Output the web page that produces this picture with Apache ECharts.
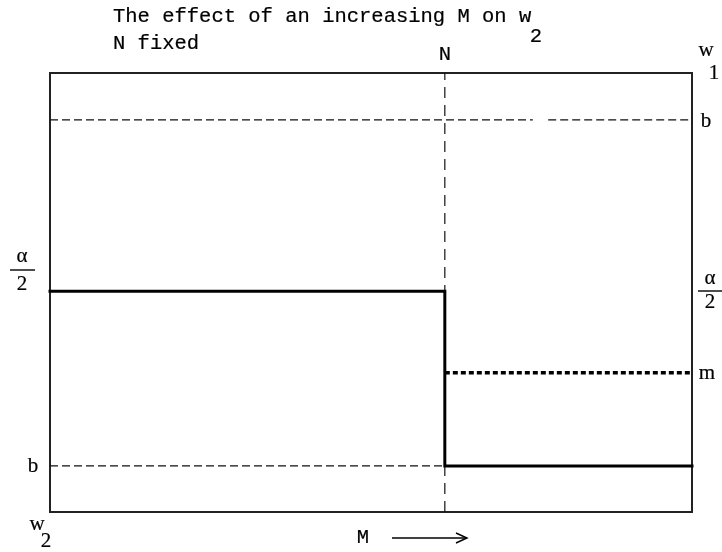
<!DOCTYPE html>
<html>
<head>
<meta charset="utf-8">
<script src="https://cdn.jsdelivr.net/npm/echarts@6/dist/echarts.min.js"></script>
<style>
html,body{margin:0;padding:0;background:#fff;}
#chart{width:722px;height:552px;}
</style>
</head>
<body>
<div id="chart"></div>
<script>
// ---- data (relative units: x in [0,1] along M, y in [0,1] along w) ----
const stepX = [0, 0.615, 0.615, 1];          // solid w2 path
const stepY = [0.503, 0.503, 0.105, 0.105];
const mLineX = [0.615, 1];                     // dotted m level
const mLineY = [0.317, 0.317];
const bLowX = [0, 0.615];                      // dashed lower b
const bLowY = [0.105, 0.105];
const bTopX1 = [0, 0.752];                     // dashed upper b (two pieces)
const bTopX2 = [0.776, 1];
const bTopY = [0.893, 0.893];
const nLineX = [0.615, 0.615];                 // vertical N line
const nLineY = [0, 1];

const titleLines = ['The effect of an increasing M on w', 'N fixed'];

function pts(xs, ys){ return xs.map((x,i)=>[x, ys[i]]); }

const chart = echarts.init(document.getElementById('chart'), null, {renderer:'canvas'});

const mono = '"Liberation Mono", "DejaVu Sans Mono", monospace';
const serif = '"Liberation Serif", "DejaVu Serif", serif';
const txt = (x, y, s, size, font, align) => ({
  type:'text', x:x, y:y, z:100,
  style:{text:s, fontSize:size, fontFamily:font, fill:'#000', stroke:'#000', lineWidth:0.2,
         align:align||'center', verticalAlign:'middle'}
});
const bar = (x1, x2, y) => ({type:'line', z:100, shape:{x1:x1,y1:y,x2:x2,y2:y}, style:{stroke:'#000', lineWidth:1.4}});

const option = {
  backgroundColor:'#fff',
  animation:false,
  grid:{left:50, right:30, top:73, bottom:40, show:true, borderColor:'#222', borderWidth:2, backgroundColor:'transparent'},
  xAxis:{type:'value', min:0, max:1, show:false},
  yAxis:{type:'value', min:0, max:1, show:false},
  series:[
    {type:'line', data:pts(nLineX,nLineY), symbol:'none', z:2,
     lineStyle:{color:'#111', width:1.2, type:[11,7]}},
    {type:'line', data:pts(bLowX,bLowY), symbol:'none', z:2,
     lineStyle:{color:'#111', width:1.2, type:[8,4]}},
    {type:'line', data:pts(bTopX1,bTopY), symbol:'none', z:2,
     lineStyle:{color:'#111', width:1.2, type:[8,4]}},
    {type:'line', data:pts(bTopX2,bTopY), symbol:'none', z:2,
     lineStyle:{color:'#111', width:1.2, type:[8,4]}},
    {type:'line', data:pts(mLineX,mLineY), symbol:'none', z:3,
     lineStyle:{color:'#000', width:3.5, type:[5,3]}},
    {type:'line', data:pts(stepX,stepY), symbol:'none', z:4,
     lineStyle:{color:'#000', width:3, cap:'square', join:'miter'}}
  ],
  graphic:[
    txt(113, 17, titleLines[0], 20.5, mono, 'left'),
    txt(536, 37, '2', 20.5, mono),
    txt(113, 44, titleLines[1], 20.5, mono, 'left'),
    txt(445, 55, 'N', 20.5, mono),
    txt(363, 538, 'M', 20.5, mono),
    {type:'polyline', z:100, shape:{points:[[392,538],[467,538]]}, style:{stroke:'#000', lineWidth:1.4}},
    {type:'polyline', z:100, shape:{points:[[456,533],[467,538],[456,543]]}, style:{stroke:'#000', lineWidth:1.4, fill:null}},
    // right side labels
    txt(706, 50, 'w', 21, serif),
    txt(714, 73, '1', 21, serif),
    txt(706, 121, 'b', 21, serif),
    txt(707, 373, 'm', 21, serif),
    txt(710, 278, 'α', 21, serif),
    bar(698, 722, 291),
    txt(710, 302, '2', 21, serif),
    // left side labels
    txt(22, 256, 'α', 21, serif),
    bar(10, 35, 270),
    txt(22, 284, '2', 21, serif),
    txt(33, 466, 'b', 21, serif),
    txt(37, 524, 'w', 21, serif),
    txt(46, 541, '2', 21, serif)
  ]
};
chart.setOption(option);
</script>
</body>
</html>
